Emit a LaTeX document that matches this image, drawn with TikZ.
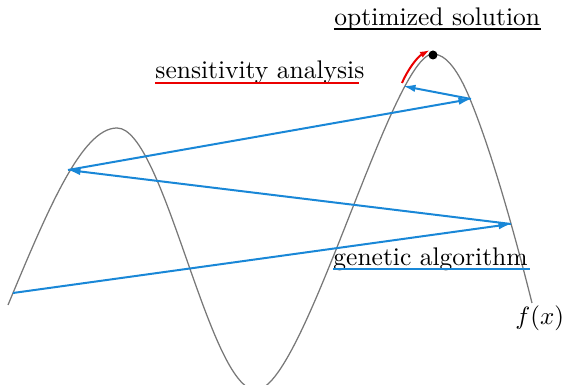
\documentclass[tikz,border=0pt]{standalone}
\usetikzlibrary{arrows.meta,calc}
\definecolor{gablue}{RGB}{25,135,215}
\definecolor{sared}{RGB}{235,0,0}
\definecolor{curvegray}{RGB}{120,120,120}
\begin{document}
\begin{tikzpicture}[x=0.4pt,y=-0.4pt,
  curve/.style={draw=curvegray, line width=0.5pt},
  gaarrow/.style={draw=gablue, line width=0.8pt, -{Latex[length=5pt,width=3pt]}},
  redarrow/.style={draw=sared, line width=0.8pt, -{Latex[length=4pt,width=2.6pt]}},
  lbl/.style={anchor=base west, inner sep=0pt, font=\fontsize{10.2}{12}\selectfont},
  uline/.style={line width=0.8pt}]
\useasboundingbox (0,0) rectangle (563,385);
\clip (0,0) rectangle (563,385);
% the function
\draw[curve] (8,305) .. controls (48,209) and (82,128) .. (117,128)
  .. controls (164,128) and (209,390) .. (256,390)
  .. controls (303.7,390) and (392,54) .. (433,54)
  .. controls (445.3,54) and (457.7,69) .. (470,99)
  .. controls (490,147.6) and (512,223) .. (532,303);
% points on the curve
\coordinate (p0) at (13,293);
\coordinate (p1) at (511,224);
\coordinate (p2) at (68,170);
\coordinate (p3) at (471,99);
\coordinate (p4) at (403,86);
\coordinate (r0) at (402,83);
\coordinate (r1) at (430,50);
% genetic algorithm steps
\draw[gaarrow] (p0) -- (p1);
\draw[gaarrow] (p1) -- (p2);
\draw[gaarrow] (p2) -- (p3);
\draw[gaarrow] (p3) -- (p4);
% sensitivity analysis step
\draw[redarrow] (r0) .. controls (407,71) and (417,57) .. (r1);
\node[circle, fill=black, inner sep=0pt, minimum size=3.6pt] (opt) at (433,55) {};
% labels
\node[lbl] (os) at (334,26) {optimized solution};
\draw[uline, black] ([yshift=-1.4pt]os.base west) -- ([yshift=-1.4pt]os.base east);
\node[lbl] (sa) at (155,79) {sensitivity analysis};
\draw[uline, sared] ([yshift=-1.6pt]sa.base west) -- ([xshift=-2.5pt,yshift=-1.6pt]sa.base east);
\node[lbl] (ga) at (333,266) {genetic algorithm};
\draw[uline, gablue] ([yshift=-1.3pt]ga.base west) -- ([xshift=0.8pt,yshift=-1.3pt]ga.base east);
\node[lbl] (fx) at (515,325) {$f(x)$};
\end{tikzpicture}
\end{document}
